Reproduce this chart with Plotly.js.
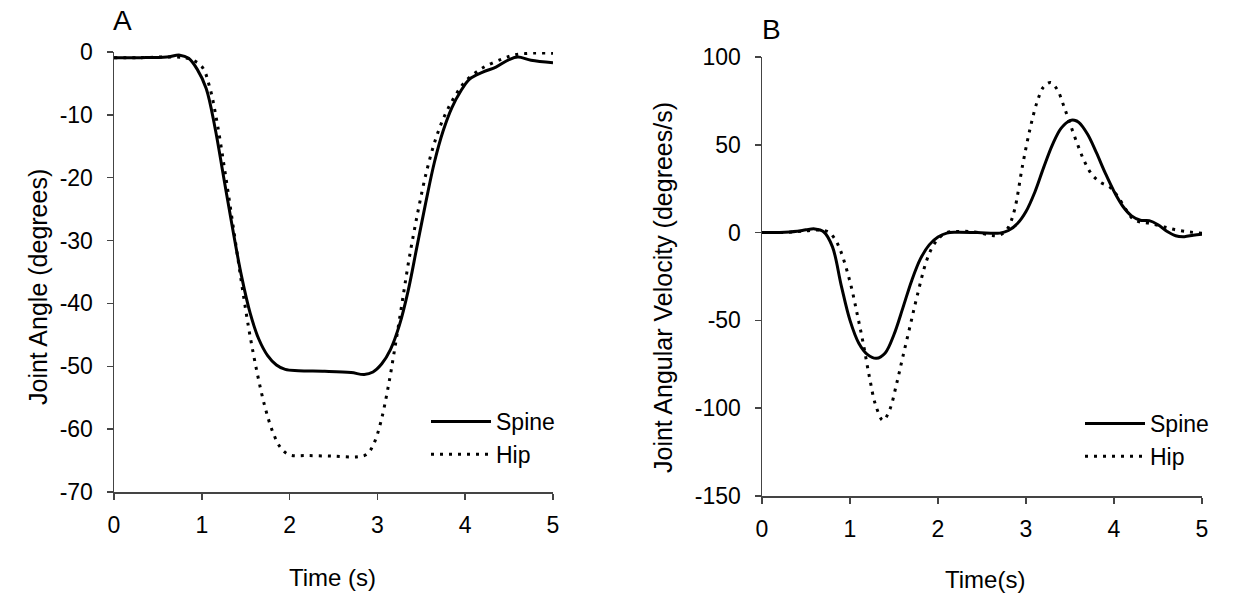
<!DOCTYPE html>
<html>
<head>
<meta charset="utf-8">
<script src="https://cdn.plot.ly/plotly-3.0.1.min.js"></script>
<style>html,body{margin:0;padding:0;background:#fff;}#chart{width:1239px;height:597px;}</style>
</head>
<body>
<div id="chart"></div>
<script>
// Panel A: joint angle (degrees)
const angleSpineT = [0, 0.3, 0.6, 0.75, 0.85, 0.95, 1.05, 1.15, 1.25, 1.35, 1.45, 1.55, 1.65, 1.75, 1.85, 1.95, 2.1, 2.4, 2.7, 2.85, 2.95, 3.05, 3.15, 3.25, 3.35, 3.45, 3.55, 3.65, 3.75, 3.85, 3.95, 4.05, 4.2, 4.35, 4.5, 4.6, 4.75, 5.0];
const angleSpine  = [-0.9, -0.9, -0.8, -0.5, -1.0, -2.8, -5.8, -12, -20, -28, -35.5, -41.5, -45.7, -48.3, -49.8, -50.5, -50.7, -50.8, -51.0, -51.3, -50.9, -49.6, -47.3, -43.5, -38, -31, -24, -17.5, -12.5, -8.8, -6.2, -4.3, -3.2, -2.4, -1.2, -0.8, -1.3, -1.7];
const angleHipT = [0, 0.3, 0.7, 0.86, 1.0, 1.09, 1.18, 1.27, 1.36, 1.45, 1.54, 1.63, 1.72, 1.81, 1.9, 2.0, 2.2, 2.5, 2.78, 2.88, 2.96, 3.04, 3.12, 3.2, 3.28, 3.36, 3.46, 3.56, 3.66, 3.76, 3.88, 4.0, 4.19, 4.42, 4.55, 4.73, 5.0];
const angleHip  = [-0.9, -0.9, -0.8, -1.1, -2.3, -5.6, -11.7, -19.6, -28, -36.5, -44.4, -51, -56.5, -60.5, -63, -64.1, -64.2, -64.3, -64.4, -64, -62.3, -58.8, -53.5, -47, -40, -33, -25.5, -19, -14, -10.3, -7.1, -4.7, -2.6, -1.1, -0.5, -0.2, -0.2];

// Panel B: joint angular velocity (degrees/s)
const velSpineT = [0, 0.2, 0.4, 0.5, 0.6, 0.7, 0.8, 0.9, 1.0, 1.1, 1.2, 1.3, 1.4, 1.5, 1.6, 1.7, 1.8, 1.9, 2.0, 2.1, 2.2, 2.45, 2.7, 2.8, 2.9, 3.0, 3.1, 3.2, 3.3, 3.4, 3.5, 3.55, 3.6, 3.7, 3.8, 3.9, 4.0, 4.1, 4.2, 4.3, 4.4, 4.5, 4.6, 4.7, 4.8, 4.9, 5.0];
const velSpine  = [0, 0.1, 0.8, 1.6, 2.1, 0.5, -8, -30, -50, -63, -69.5, -71.6, -68.5, -58, -43, -27.5, -15, -7, -2.5, -0.3, 0.2, 0, -0.3, 1.2, 5, 12, 23, 37, 50, 59.5, 63.8, 64, 62.8, 56, 45.5, 34, 23.5, 15, 9.5, 7, 6.8, 4.5, 0.8, -1.8, -2.3, -1.5, -0.9];
const velHipT = [0, 0.3, 0.5, 0.65, 0.75, 0.82, 0.89, 1.0, 1.08, 1.15, 1.22, 1.29, 1.375, 1.45, 1.53, 1.6, 1.68, 1.76, 1.87, 1.95, 2.02, 2.1, 2.2, 2.42, 2.6, 2.68, 2.75, 2.8, 2.87, 2.96, 3.05, 3.13, 3.2, 3.28, 3.36, 3.43, 3.5, 3.58, 3.66, 3.75, 3.85, 3.95, 4.05, 4.15, 4.22, 4.3, 4.39, 4.57, 4.75, 5.0];
const velHip  = [0, 0.2, 1.0, 1.5, 0.5, -3, -10, -28, -46, -63, -82, -98, -107, -101, -86, -70.8, -53.8, -36.7, -16, -7, -2.7, 0, 0.6, 0.4, -1.5, -1.7, 0, 3, 13, 38, 60, 75, 83, 85.5, 81, 72, 62, 51, 41, 33, 28.5, 26, 20, 12, 7.6, 6, 5.4, 3.2, 1.1, -0.4];

const xTicks = [0, 1, 2, 3, 4, 5];
const xTickLabels = ['0', '1', '2', '3', '4', '5'];
const angleTicks = [0, -10, -20, -30, -40, -50, -60, -70];
const angleTickLabels = ['0', '-10', '-20', '-30', '-40', '-50', '-60', '-70'];
const velTicks = [100, 50, 0, -50, -100, -150];
const velTickLabels = ['100', '50', '0', '-50', '-100', '-150'];

const FONT = 'Liberation Sans, Arial, Helvetica, sans-serif';
const W = 1239, H = 597;
const px = v => v / W;
const py = v => 1 - v / H;

const solid = {color: '#000', width: 3, shape: 'spline', smoothing: 1};
const dotted = {color: '#000', width: 3, shape: 'spline', smoothing: 1, dash: '3px,6px'};

const traces = [
  {x: angleSpineT, y: angleSpine, name: 'Spine', mode: 'lines', line: solid, xaxis: 'x', yaxis: 'y', legend: 'legend'},
  {x: angleHipT, y: angleHip, name: 'Hip', mode: 'lines', line: dotted, xaxis: 'x', yaxis: 'y', legend: 'legend'},
  {x: velSpineT, y: velSpine, name: 'Spine', mode: 'lines', line: solid, xaxis: 'x2', yaxis: 'y2', legend: 'legend2'},
  {x: velHipT, y: velHip, name: 'Hip', mode: 'lines', line: dotted, xaxis: 'x2', yaxis: 'y2', legend: 'legend2'}
];

const axBase = {
  showline: true, linecolor: '#444', linewidth: 1.5, showgrid: false, zeroline: false,
  ticks: 'outside', ticklen: 6, tickwidth: 1.5, tickcolor: '#444',
  tickfont: {family: FONT, size: 23, color: '#000'}, automargin: false, fixedrange: true
};

const legBase = {
  font: {family: FONT, size: 23, color: '#000'}, bgcolor: 'rgba(0,0,0,0)',
  borderwidth: 0, itemwidth: 60, tracegroupgap: 0, xanchor: 'left', yanchor: 'top'
};

const layout = {
  width: W, height: H,
  margin: {l: 0, r: 0, t: 0, b: 0},
  paper_bgcolor: '#fff', plot_bgcolor: '#fff',
  showlegend: true,
  font: {family: FONT, size: 23, color: '#000'},
  xaxis: Object.assign({}, axBase, {domain: [px(114), px(553)], range: [0, 5], tickvals: xTicks, ticktext: xTickLabels, anchor: 'y', ticklabelstandoff: 6}),
  yaxis: Object.assign({}, axBase, {domain: [py(492), py(52)], range: [-70, 0], tickvals: angleTicks, ticktext: angleTickLabels, anchor: 'x', ticklabelstandoff: 9}),
  xaxis2: Object.assign({}, axBase, {domain: [px(762), px(1202)], range: [0, 5], tickvals: xTicks, ticktext: xTickLabels, anchor: 'y2', ticklabelstandoff: 6}),
  yaxis2: Object.assign({}, axBase, {domain: [py(496), py(57)], range: [-150, 100], tickvals: velTicks, ticktext: velTickLabels, anchor: 'x2', ticklabelstandoff: 9}),
  legend: Object.assign({}, legBase, {x: px(426), y: py(400)}),
  legend2: Object.assign({}, legBase, {x: px(1080), y: py(402)}),
  annotations: [
    {text: 'A', x: px(122), y: py(20), xref: 'paper', yref: 'paper', showarrow: false, xanchor: 'center', yanchor: 'middle', font: {family: FONT, size: 28, color: '#000'}},
    {text: 'B', x: px(772), y: py(30), xref: 'paper', yref: 'paper', showarrow: false, xanchor: 'center', yanchor: 'middle', font: {family: FONT, size: 28, color: '#000'}},
    {text: 'Joint Angle (degrees)', x: px(38), y: py(287), xref: 'paper', yref: 'paper', showarrow: false, textangle: -90, xanchor: 'center', yanchor: 'middle', font: {family: FONT, size: 25, color: '#000'}},
    {text: 'Joint Angular Velocity (degrees/s)', x: px(663), y: py(288), xref: 'paper', yref: 'paper', showarrow: false, textangle: -90, xanchor: 'center', yanchor: 'middle', font: {family: FONT, size: 25, color: '#000'}},
    {text: 'Time (s)', x: px(333), y: py(577), xref: 'paper', yref: 'paper', showarrow: false, xanchor: 'center', yanchor: 'middle', font: {family: FONT, size: 24, color: '#000'}},
    {text: 'Time(s)', x: px(985), y: py(579), xref: 'paper', yref: 'paper', showarrow: false, xanchor: 'center', yanchor: 'middle', font: {family: FONT, size: 24, color: '#000'}}
  ]
};

Plotly.newPlot('chart', traces, layout, {staticPlot: true, displayModeBar: false});
</script>
</body>
</html>
